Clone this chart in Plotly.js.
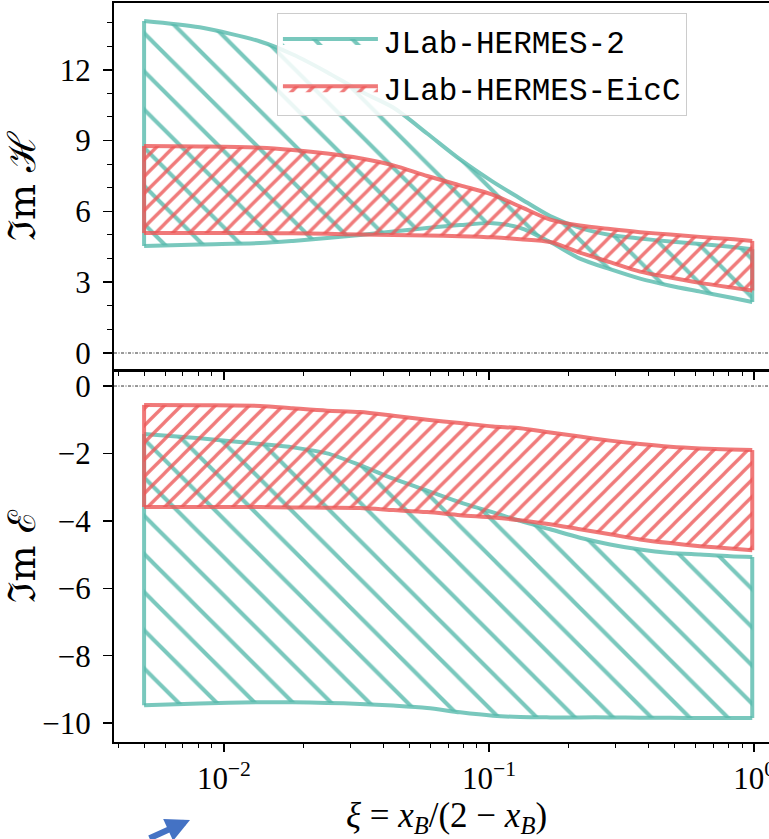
<!DOCTYPE html>
<html>
<head>
<meta charset="utf-8">
<script src="https://cdn.plot.ly/plotly-3.0.1.min.js"></script>
<style>
html, body { margin: 0; padding: 0; overflow: hidden; background: #fff; }
#chart { width: 790px; height: 839px; }
</style>
</head>
<body>
<div id="chart"></div>
<script>
// ---- data ----
const xi = [0.005, 0.0081, 0.0137, 0.0182, 0.0245, 0.0326, 0.0435, 0.0584, 0.0778, 0.1035, 0.131, 0.170, 0.220, 0.286, 0.371, 0.482, 0.625, 0.812, 0.983];

const imH_HERMES2_upper = [14.07, 13.8, 13.2, 12.65, 11.9, 11.1, 10.4, 9.3, 8.2, 7.25, 6.55, 5.8, 5.3, 5.0, 4.85, 4.72, 4.62, 4.5, 4.4];
const imH_HERMES2_lower = [4.53, 4.6, 4.66, 4.75, 4.87, 5.0, 5.15, 5.3, 5.42, 5.5, 5.3, 4.7, 4.0, 3.55, 3.15, 2.85, 2.6, 2.35, 2.16];
const imH_EicC_upper = [8.77, 8.75, 8.7, 8.6, 8.45, 8.25, 7.95, 7.5, 7.1, 6.7, 6.2, 5.65, 5.4, 5.25, 5.12, 5.02, 4.92, 4.83, 4.75];
const imH_EicC_lower = [5.08, 5.08, 5.08, 5.07, 5.05, 5.02, 5.0, 4.98, 4.95, 4.9, 4.82, 4.7, 4.25, 3.85, 3.45, 3.2, 2.97, 2.78, 2.65];

const imE_HERMES2_upper = [-1.42, -1.55, -1.72, -1.82, -2.0, -2.35, -2.75, -3.1, -3.45, -3.75, -4.0, -4.25, -4.5, -4.7, -4.85, -4.95, -5.0, -5.05, -5.07];
const imE_HERMES2_lower = [-9.47, -9.42, -9.38, -9.38, -9.4, -9.43, -9.48, -9.55, -9.68, -9.78, -9.82, -9.83, -9.83, -9.83, -9.84, -9.84, -9.85, -9.85, -9.85];
const imE_EicC_upper = [-0.56, -0.57, -0.59, -0.66, -0.73, -0.77, -0.88, -1.0, -1.1, -1.2, -1.25, -1.38, -1.5, -1.62, -1.72, -1.8, -1.85, -1.88, -1.9];
const imE_EicC_lower = [-3.59, -3.59, -3.59, -3.6, -3.61, -3.62, -3.68, -3.74, -3.83, -3.9, -3.98, -4.1, -4.25, -4.4, -4.55, -4.66, -4.75, -4.82, -4.87];

const seriesNames = ['JLab-HERMES-2', 'JLab-HERMES-EicC'];
const xTickVals = [0.01, 0.1, 1];
const xTickText = ['10<sup>−2</sup>', '10<sup>−1</sup>', '10<sup>0</sup>'];
const xMinorVals = [0.004, 0.005, 0.006, 0.007, 0.008, 0.009, 0.02, 0.03, 0.04, 0.05, 0.06, 0.07, 0.08, 0.09, 0.2, 0.3, 0.4, 0.5, 0.6, 0.7, 0.8, 0.9];
const yTopTicks = [0, 3, 6, 9, 12];
const yBotTicks = [-10, -8, -6, -4, -2, 0];

// ---- styles ----
const teal = 'rgba(88,186,172,0.8)';
const red = 'rgba(236,88,88,0.8)';

function band(upper, lower, name, color, shape, size, solidity, xa, ya, showleg) {
  const n = xi.length - 1;
  const lowerTrace = {
    type: 'scatter', mode: 'lines', x: xi, y: lower, xaxis: xa, yaxis: ya,
    name: name, showlegend: false, legendgroup: name,
    line: { color: color, width: 4, shape: 'spline', smoothing: 0.8 }, hoverinfo: 'skip'
  };
  const upperTrace = {
    type: 'scatter', mode: 'lines', x: xi, y: upper, xaxis: xa, yaxis: ya,
    name: name, showlegend: showleg, legendgroup: name,
    fill: 'tonexty', fillcolor: 'rgba(0,0,0,0)',
    fillpattern: { shape: shape, fgcolor: color, bgcolor: 'rgba(0,0,0,0)', size: size, solidity: solidity },
    line: { color: color, width: 4, shape: 'spline', smoothing: 0.8 }, hoverinfo: 'skip'
  };
  const sides = {
    type: 'scatter', mode: 'lines', xaxis: xa, yaxis: ya,
    x: [xi[0], xi[0], null, xi[n], xi[n]],
    y: [lower[0], upper[0], null, lower[n], upper[n]],
    name: name, showlegend: false, legendgroup: name,
    line: { color: color, width: 4 }, hoverinfo: 'skip'
  };
  return [lowerTrace, upperTrace, sides];
}

const traces = [].concat(
  band(imH_HERMES2_upper, imH_HERMES2_lower, seriesNames[0], teal, '\\', 27, 0.15, 'x', 'y', true),
  band(imH_EicC_upper, imH_EicC_lower, seriesNames[1], red, '/', 12, 0.28, 'x', 'y', true),
  band(imE_HERMES2_upper, imE_HERMES2_lower, seriesNames[0], teal, '\\', 27, 0.15, 'x2', 'y2', false),
  band(imE_EicC_upper, imE_EicC_lower, seriesNames[1], red, '/', 12, 0.28, 'x2', 'y2', false)
);

const serif = "'Liberation Serif', 'DejaVu Serif', serif";
const tickFont = { family: serif, size: 31, color: '#000' };
const xRange = [Math.log10(0.00385), Math.log10(1.24)];

const commonX = {
  type: 'log', range: xRange, showline: true, linecolor: '#000', linewidth: 2, mirror: true,
  ticks: 'outside', ticklen: 8, tickwidth: 1.5, tickcolor: '#000',
  tickmode: 'array', tickvals: xTickVals, ticktext: xTickText,
  minor: { tickmode: 'array', tickvals: xMinorVals, ticks: 'outside', ticklen: 4, tickwidth: 1, tickcolor: '#000', showgrid: false },
  showgrid: false, zeroline: false, tickfont: tickFont
};

const zeroDash = '3px,1.5px,1px,1.5px';

const layout = {
  width: 790, height: 839,
  margin: { l: 114, r: 11, t: 3, b: 97 },
  paper_bgcolor: '#fff', plot_bgcolor: '#fff',
  showlegend: true,
  legend: {
    x: 0.245, y: 0.986, xanchor: 'left', yanchor: 'top',
    bgcolor: 'rgba(255,255,255,0.85)', bordercolor: '#cccccc', borderwidth: 1,
    font: { family: "'Liberation Mono', 'DejaVu Sans Mono', monospace", size: 31, color: '#000' },
    itemwidth: 95, tracegroupgap: 4
  },
  xaxis: Object.assign({}, commonX, { anchor: 'y', showticklabels: false }),
  xaxis2: Object.assign({}, commonX, { anchor: 'y2', matches: 'x',
    title: { text: '<i>ξ</i> = <i>x</i><sub><i>B</i></sub>/(2 − <i>x</i><sub><i>B</i></sub>)', font: { family: serif, size: 35, color: '#000' }, standoff: 10 } }),
  yaxis: {
    domain: [0.5034, 1], range: [-0.72, 14.83], anchor: 'x',
    showline: true, linecolor: '#000', linewidth: 2, mirror: true,
    ticks: 'outside', ticklen: 9, tickwidth: 1.5, tickcolor: '#000', ticklabelstandoff: 6,
    tickmode: 'array', tickvals: yTopTicks,
    minor: { dtick: 1, ticks: 'outside', ticklen: 5, tickwidth: 1, tickcolor: '#000', showgrid: false },
    showgrid: false, zeroline: false, tickfont: tickFont,
    title: { text: 'ℑm ℋ', font: { family: "'DejaVu Serif', serif", size: 38, color: '#000' }, standoff: 44 }
  },
  yaxis2: {
    domain: [0, 0.502], range: [-10.56, 0.445], anchor: 'x2',
    showline: true, linecolor: '#000', linewidth: 2, mirror: true,
    ticks: 'outside', ticklen: 9, tickwidth: 1.5, tickcolor: '#000', ticklabelstandoff: 6,
    tickmode: 'array', tickvals: yBotTicks, ticktext: yBotTicks.map(v => v < 0 ? '−' + Math.abs(v) : String(v)),
    showgrid: false, zeroline: false, tickfont: tickFont,
    title: { text: 'ℑm ℰ', font: { family: "'DejaVu Serif', serif", size: 38, color: '#000' }, standoff: 22 }
  },
  shapes: [
    { type: 'line', xref: 'x domain', yref: 'y', x0: 0, x1: 1, y0: 0, y1: 0, line: { color: '#000', width: 0.8, dash: zeroDash } },
    { type: 'line', xref: 'x2 domain', yref: 'y2', x0: 0, x1: 1, y0: 0, y1: 0, line: { color: '#000', width: 0.8, dash: zeroDash } }
  ],
  annotations: [
    { xref: 'paper', yref: 'paper', x: 0.1143, y: -0.1055, ax: -42, ay: 28, showarrow: true,
      arrowhead: 2, arrowsize: 0.8, arrowwidth: 6, arrowcolor: '#4472c4', text: '' }
  ]
};

Plotly.newPlot('chart', traces, layout, { displayModeBar: false, staticPlot: true });
</script>
</body>
</html>
